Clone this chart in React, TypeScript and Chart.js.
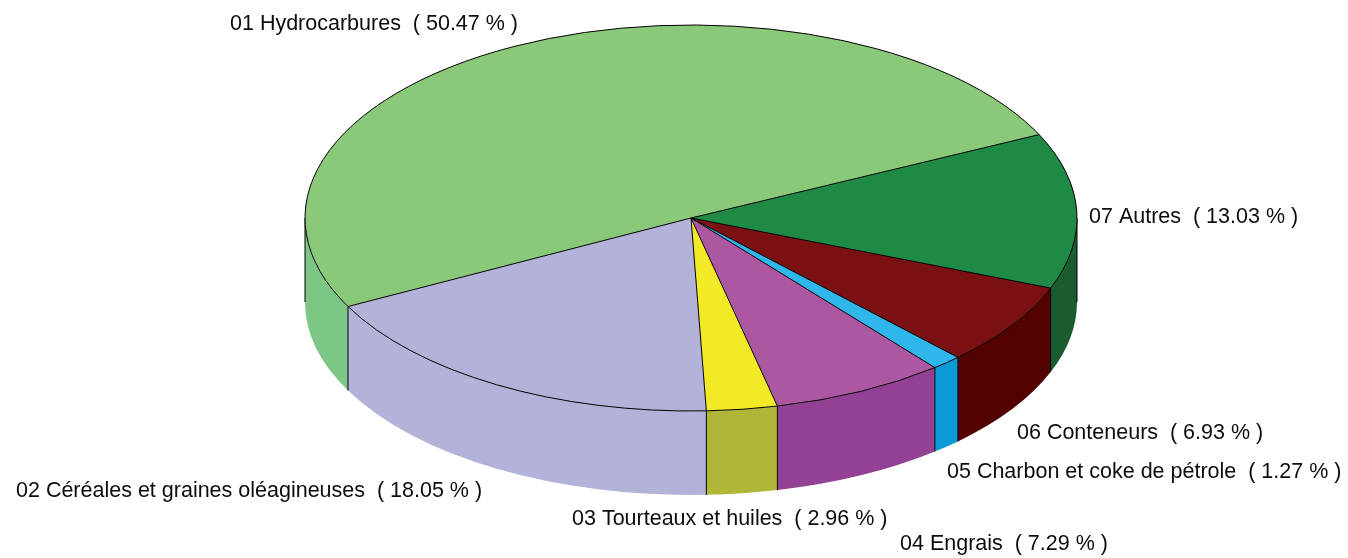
import React, { useEffect, useRef } from "react";
import { Chart, registerables } from "chart.js";

Chart.register(...registerables);

// Order as drawn clockwise, starting from the first slice.
const categories = [
  "01 Hydrocarbures",
  "07 Autres",
  "06 Conteneurs",
  "05 Charbon et coke de pétrole",
  "04 Engrais",
  "03 Tourteaux et huiles",
  "02 Céréales et graines oléagineuses",
];
const shares = [50.47, 13.03, 6.93, 1.27, 7.29, 2.96, 18.05];
const topColors = ["#8bc97a", "#1f8946", "#7b1113", "#2fb6eb", "#ab57a2", "#f2e927", "#b3b3d9"];
const wallColors = ["#7dc685", "#1a5c30", "#520000", "#0a9bd6", "#934194", "#afb638", "#b3b3d9"];
const labelLeft = [230, 1089, 1017, 947, 900, 572, 16];
const labelMiddle = [24, 217, 433, 472, 544, 519, 491];

const SQUASH = 2;
const DEPTH = 84;
const ROTATION = 242.7;
const TWO_PI = Math.PI * 2;

const pie3d = {
  id: "pie3d",
  beforeDatasetsDraw(chart: any) {
    const { ctx } = chart;
    const arcs = chart.getDatasetMeta(0).data;
    const { x: cx, y: cy, outerRadius: ry } = arcs[0];
    const rx = ry * SQUASH;
    ctx.save();
    arcs.forEach((arc: any, i: number) => {
      for (const base of [0, TWO_PI]) {
        const a0 = Math.max(arc.startAngle, base);
        const a1 = Math.min(arc.endAngle, base + Math.PI);
        if (a1 <= a0) continue;
        ctx.beginPath();
        ctx.ellipse(cx, cy, rx, ry, 0, a0, a1);
        ctx.ellipse(cx, cy + DEPTH, rx, ry, 0, a1, a0, true);
        ctx.closePath();
        ctx.fillStyle = wallColors[i];
        ctx.fill();
      }
    });
    ctx.strokeStyle = "#000";
    ctx.lineWidth = 1;
    const edge = (a: number) => {
      const x = cx + rx * Math.cos(a);
      const y = cy + ry * Math.sin(a);
      ctx.beginPath();
      ctx.moveTo(x, y);
      ctx.lineTo(x, y + DEPTH);
      ctx.stroke();
    };
    edge(0);
    edge(Math.PI);
    arcs.forEach((arc: any) => {
      if (Math.sin(arc.startAngle) > 0) edge(arc.startAngle);
    });
    ctx.restore();

    // Arcs are drawn by Chart.js through this squash, then restored below.
    ctx.save();
    ctx.translate(cx, cy);
    ctx.scale(SQUASH, 1);
    ctx.translate(-cx, -cy);
  },
  afterDatasetsDraw(chart: any) {
    const { ctx } = chart;
    ctx.restore();
    const arcs = chart.getDatasetMeta(0).data;
    const { x: cx, y: cy, outerRadius: ry } = arcs[0];
    const rx = ry * SQUASH;
    ctx.save();
    ctx.strokeStyle = "#000";
    ctx.lineWidth = 1;
    arcs.forEach((arc: any) => {
      ctx.beginPath();
      ctx.moveTo(cx, cy);
      ctx.lineTo(cx + rx * Math.cos(arc.startAngle), cy + ry * Math.sin(arc.startAngle));
      ctx.stroke();
      ctx.beginPath();
      ctx.ellipse(cx, cy, rx, ry, 0, arc.startAngle, arc.endAngle);
      ctx.stroke();
    });
    ctx.fillStyle = "#0c0c0c";
    ctx.font = '21.5px "Liberation Sans"';
    ctx.textAlign = "left";
    ctx.textBaseline = "middle";
    categories.forEach((name, i) => {
      ctx.fillText(`${name}  ( ${shares[i].toFixed(2)} % )`, labelLeft[i], labelMiddle[i]);
    });
    ctx.restore();
  },
};

export default function App() {
  const ref = useRef<HTMLCanvasElement>(null);
  useEffect(() => {
    document.body.style.margin = "0";
    const chart = new Chart(ref.current as HTMLCanvasElement, {
      type: "pie",
      data: {
        labels: categories,
        datasets: [
          {
            data: shares,
            backgroundColor: topColors,
            borderWidth: 0,
            clip: false,
          } as any,
        ],
      },
      options: {
        animation: false,
        responsive: false,
        rotation: ROTATION,
        layout: { padding: { top: 25, bottom: 147, left: 498, right: 464 } },
        plugins: { legend: { display: false }, tooltip: { enabled: false } },
      },
      plugins: [pie3d],
    });
    return () => chart.destroy();
  }, []);
  return <canvas ref={ref} width={1348} height={558} style={{ display: "block" }} />;
}
